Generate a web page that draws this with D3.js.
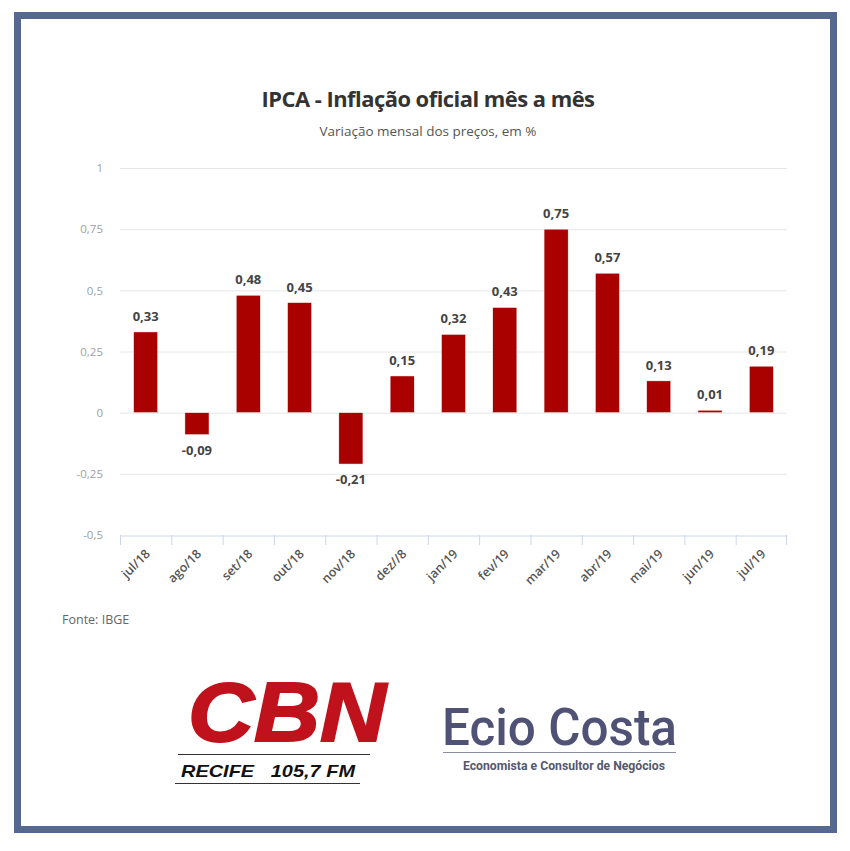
<!DOCTYPE html>
<html>
<head>
<meta charset="utf-8">
<script src="https://cdn.jsdelivr.net/npm/d3@7.9.0/dist/d3.min.js"></script>
<style>
  html, body { margin: 0; padding: 0; background: #fff; }
  svg { display: block; }
</style>
</head>
<body>
<svg id="chart" width="850" height="851"></svg>
<script>
const months = ['jul/18', 'ago/18', 'set/18', 'out/18', 'nov/18', 'dez//8', 'jan/19',
  'fev/19', 'mar/19', 'abr/19', 'mai/19', 'jun/19', 'jul/19'];
const ipca = [0.33, -0.09, 0.48, 0.45, -0.21, 0.15, 0.32, 0.43, 0.75, 0.57, 0.13, 0.01, 0.19];
const yTicks = [-0.5, -0.25, 0, 0.25, 0.5, 0.75, 1];

const br = d3.formatLocale({ decimal: ',', thousands: '.', grouping: [3], currency: ['R$', ''], minus: '-' });
const fmtTick = br.format('~g');
const fmtVal = br.format('.2f');

const svg = d3.select('#chart');

// moldura azul
svg.append('rect')
  .attr('x', 17.5).attr('y', 15.5)
  .attr('width', 816).attr('height', 814)
  .attr('fill', '#fff')
  .attr('stroke', '#56688f')
  .attr('stroke-width', 7);

svg.append('text')
  .attr('x', 428).attr('y', 107)
  .attr('text-anchor', 'middle')
  .attr('font-family', 'Open Sans')
  .attr('font-weight', 'bold')
  .attr('font-size', 21)
  .attr('letter-spacing', -0.5)
  .attr('textLength', 333)
  .attr('lengthAdjust', 'spacingAndGlyphs')
  .attr('fill', '#333')
  .text('IPCA - Inflação oficial mês a mês');

svg.append('text')
  .attr('x', 428).attr('y', 136)
  .attr('text-anchor', 'middle')
  .attr('font-family', 'Open Sans')
  .attr('font-size', 12.5)
  .attr('textLength', 217)
  .attr('lengthAdjust', 'spacingAndGlyphs')
  .attr('fill', '#555')
  .text('Variação mensal dos preços, em %');

const x = d3.scaleBand().domain(months).range([120, 787]).paddingInner(0.53).paddingOuter(0.265);
const y = d3.scaleLinear().domain([-0.5, 1]).range([535, 168]);

// grade
svg.append('g')
  .selectAll('line')
  .data(yTicks.filter(d => d !== -0.5))
  .join('line')
  .attr('x1', 120).attr('x2', 787)
  .attr('y1', d => y(d) + 0.5).attr('y2', d => y(d) + 0.5)
  .attr('stroke', '#e6e6e6');

const yAxis = svg.append('g')
  .attr('transform', 'translate(103,0)')
  .call(d3.axisLeft(y).tickValues(yTicks).tickFormat(fmtTick).tickSize(0).tickPadding(0));
yAxis.select('.domain').remove();
yAxis.selectAll('text')
  .attr('font-family', 'Open Sans')
  .attr('font-size', 11.5)
  .attr('fill', '#a0a0a0');

// eixo x
const xAxis = svg.append('g')
  .attr('transform', `translate(0,${y(-0.5) + 0.5})`)
  .call(d3.axisBottom(x).tickSize(0).tickSizeOuter(0));
xAxis.select('.domain').attr('stroke', '#ccd6eb');
xAxis.selectAll('.tick text')
  .attr('font-family', 'Open Sans')
  .attr('font-weight', 600)
  .attr('font-size', 12.5)
  .attr('fill', '#555')
  .attr('text-anchor', 'end')
  .attr('dy', 0)
  .attr('transform', 'translate(3,17) rotate(-45)');

const step = x.step();
svg.append('g')
  .selectAll('line')
  .data(months)
  .join('line')
  .attr('x1', d => x(d) - (step - x.bandwidth()) / 2 + 0.5)
  .attr('x2', d => x(d) - (step - x.bandwidth()) / 2 + 0.5)
  .attr('y1', y(-0.5)).attr('y2', y(-0.5) + 10)
  .attr('stroke', '#ccd6eb');
svg.append('line')
  .attr('x1', 786.5).attr('x2', 786.5)
  .attr('y1', y(-0.5)).attr('y2', y(-0.5) + 10)
  .attr('stroke', '#ccd6eb');

// barras
svg.append('g')
  .selectAll('rect')
  .data(months)
  .join('rect')
  .attr('x', d => x(d))
  .attr('width', x.bandwidth())
  .attr('y', (d, i) => y(Math.max(0, ipca[i])))
  .attr('height', (d, i) => Math.abs(y(ipca[i]) - y(0)))
  .attr('fill', '#a90000')
  .attr('stroke', '#fff')
  .attr('stroke-width', 0.5);

svg.append('g')
  .selectAll('text')
  .data(months)
  .join('text')
  .attr('x', d => x(d) + x.bandwidth() / 2)
  .attr('y', (d, i) => ipca[i] >= 0 ? y(ipca[i]) - 11 : y(ipca[i]) + 20)
  .attr('text-anchor', 'middle')
  .attr('font-family', 'Open Sans')
  .attr('font-weight', 'bold')
  .attr('font-size', 13)
  .attr('fill', '#444')
  .text((d, i) => fmtVal(ipca[i]));

svg.append('text')
  .attr('x', 62).attr('y', 624)
  .attr('font-family', 'Open Sans')
  .attr('font-size', 12.5)
  .attr('fill', '#666')
  .text('Fonte: IBGE');

// logos
svg.append('text')
  .attr('x', 188).attr('y', 741)
  .attr('font-family', 'Liberation Sans')
  .attr('font-weight', 'bold')
  .attr('font-style', 'italic')
  .attr('font-size', 84)
  .attr('textLength', 198)
  .attr('lengthAdjust', 'spacingAndGlyphs')
  .attr('fill', '#c0121c')
  .attr('stroke', '#c0121c')
  .attr('stroke-width', 2)
  .text('CBN');
svg.append('line').attr('x1', 178).attr('x2', 370).attr('y1', 754.5).attr('y2', 754.5).attr('stroke', '#333');
svg.append('text')
  .attr('x', 181).attr('y', 777)
  .attr('font-family', 'Liberation Sans')
  .attr('font-weight', 'bold')
  .attr('font-style', 'italic')
  .attr('font-size', 17)
  .attr('textLength', 174)
  .attr('lengthAdjust', 'spacingAndGlyphs')
  .attr('fill', '#111')
  .attr('xml:space', 'preserve')
  .text('RECIFE   105,7 FM');
svg.append('line').attr('x1', 175).attr('x2', 360).attr('y1', 783.5).attr('y2', 783.5).attr('stroke', '#333');

svg.append('text')
  .attr('x', 442).attr('y', 745)
  .attr('font-family', 'Roboto')
  .attr('font-weight', 500)
  .attr('font-size', 52)
  .attr('textLength', 235)
  .attr('lengthAdjust', 'spacingAndGlyphs')
  .attr('fill', '#4f5275')
  .text('Ecio Costa');
svg.append('line').attr('x1', 443).attr('x2', 676).attr('y1', 752.5).attr('y2', 752.5).attr('stroke', '#8a8da3');
svg.append('text')
  .attr('x', 564).attr('y', 770)
  .attr('text-anchor', 'middle')
  .attr('font-family', 'Roboto')
  .attr('font-weight', 'bold')
  .attr('font-size', 12)
  .attr('textLength', 202)
  .attr('lengthAdjust', 'spacingAndGlyphs')
  .attr('fill', '#55586e')
  .text('Economista e Consultor de Negócios');
</script>
</body>
</html>
